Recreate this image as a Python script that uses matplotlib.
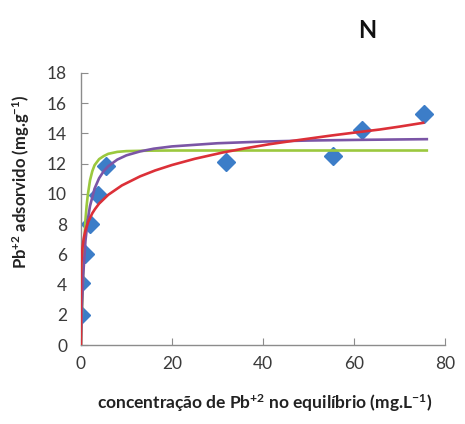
import matplotlib
matplotlib.use("Agg")
import matplotlib.pyplot as plt

plt.rcParams['font.family'] = ['Lato', 'DejaVu Sans']
plt.rcParams['mathtext.fontset'] = 'custom'
plt.rcParams['mathtext.rm'] = 'Lato'
plt.rcParams['mathtext.bf'] = 'Lato:bold'

# measured data points
x_data = [0.0, 0.0, 0.9, 2.0, 3.7, 5.6, 31.9, 55.3, 61.8, 75.4]
y_data = [2.0, 4.1, 6.05, 8.0, 9.9, 11.85, 12.1, 12.5, 14.2, 15.3]

# fitted curves, values
x_green = [0, 0.25, 0.5, 0.75, 1.0, 1.25, 1.5, 2, 2.5, 3, 4, 5, 6, 8, 10, 15, 20, 30, 50, 76]
y_green = [0, 2.5, 4.8, 6.8, 8.3, 9.2, 9.9, 10.9, 11.5, 11.9, 12.3, 12.5, 12.65, 12.78, 12.83, 12.86, 12.87, 12.87, 12.87, 12.87]

x_purple = [0, 0.2, 0.5, 1, 1.5, 2, 3, 4, 5, 6, 8, 10, 13, 16, 20, 30, 40, 50, 60, 76]
y_purple = [0, 2.30, 4.60, 6.90, 8.28, 9.20, 10.35, 11.04, 11.50, 11.83, 12.27, 12.55, 12.81, 12.99, 13.14, 13.35, 13.46, 13.53, 13.57, 13.62]

x_red = [0, 0.02, 0.05, 0.1, 0.3, 0.6, 1.0, 1.6, 2.5, 3.1, 4, 6, 9, 13, 16.3, 20, 25, 31.2, 36, 41.5, 48, 55, 60, 65.7, 70, 75.2]
y_red = [0, 4.0, 4.85, 5.38, 6.35, 7.04, 7.6, 8.15, 8.72, 9.0, 9.36, 9.94, 10.56, 11.16, 11.55, 11.91, 12.32, 12.74, 13.01, 13.29, 13.57, 13.86, 14.05, 14.26, 14.45, 14.7]

x_ticks = [0, 20, 40, 60, 80]
y_ticks = [0, 2, 4, 6, 8, 10, 12, 14, 16, 18]

fig = plt.figure(figsize=(4.65, 4.24), dpi=100)
ax = fig.add_axes([0.174, 0.186, 0.783, 0.642])

ax.plot(x_data, y_data, linestyle='none', marker='D', markersize=9,
        color='#3C7DC8', zorder=2)
ax.plot(x_green, y_green, color='#9BC83E', lw=1.9, zorder=3)
ax.plot(x_purple, y_purple, color='#7B55A6', lw=1.9, zorder=4)
ax.plot(x_red, y_red, color='#DC3038', lw=1.9, zorder=5)

ax.set_xlim(0, 80)
ax.set_ylim(0, 18)
ax.set_xticks(x_ticks)
ax.set_yticks(y_ticks)
ax.spines['top'].set_visible(False)
ax.spines['right'].set_visible(False)
for s in ['left', 'bottom']:
    ax.spines[s].set_color('#8C8C8C')
    ax.spines[s].set_linewidth(1.0)
ax.tick_params(direction='in', length=5, color='#8C8C8C', labelsize=12.5,
               labelcolor='#3A3A3A', pad=8)
ax.tick_params(axis='y', pad=10)

ax.set_xlabel(r'concentração de Pb$\mathbf{^{+2}}$ no equilíbrio (mg.L$\mathbf{^{-1}}$)',
              fontsize=12.5, fontweight='bold', color='#222222')
ax.set_ylabel(r'Pb$\mathbf{^{+2}}$ adsorvido (mg.g$\mathbf{^{-1}}$)', fontsize=12,
              fontweight='bold', color='#222222')
ax.xaxis.set_label_coords(0.505, -0.175)
ax.yaxis.set_label_coords(-0.135, 0.60)
fig.text(367 / 465, 1 - 30 / 424, 'N', fontsize=17, fontweight='bold',
         ha='center', va='center', color='#111111')

fig.savefig('out.png', dpi=100)
